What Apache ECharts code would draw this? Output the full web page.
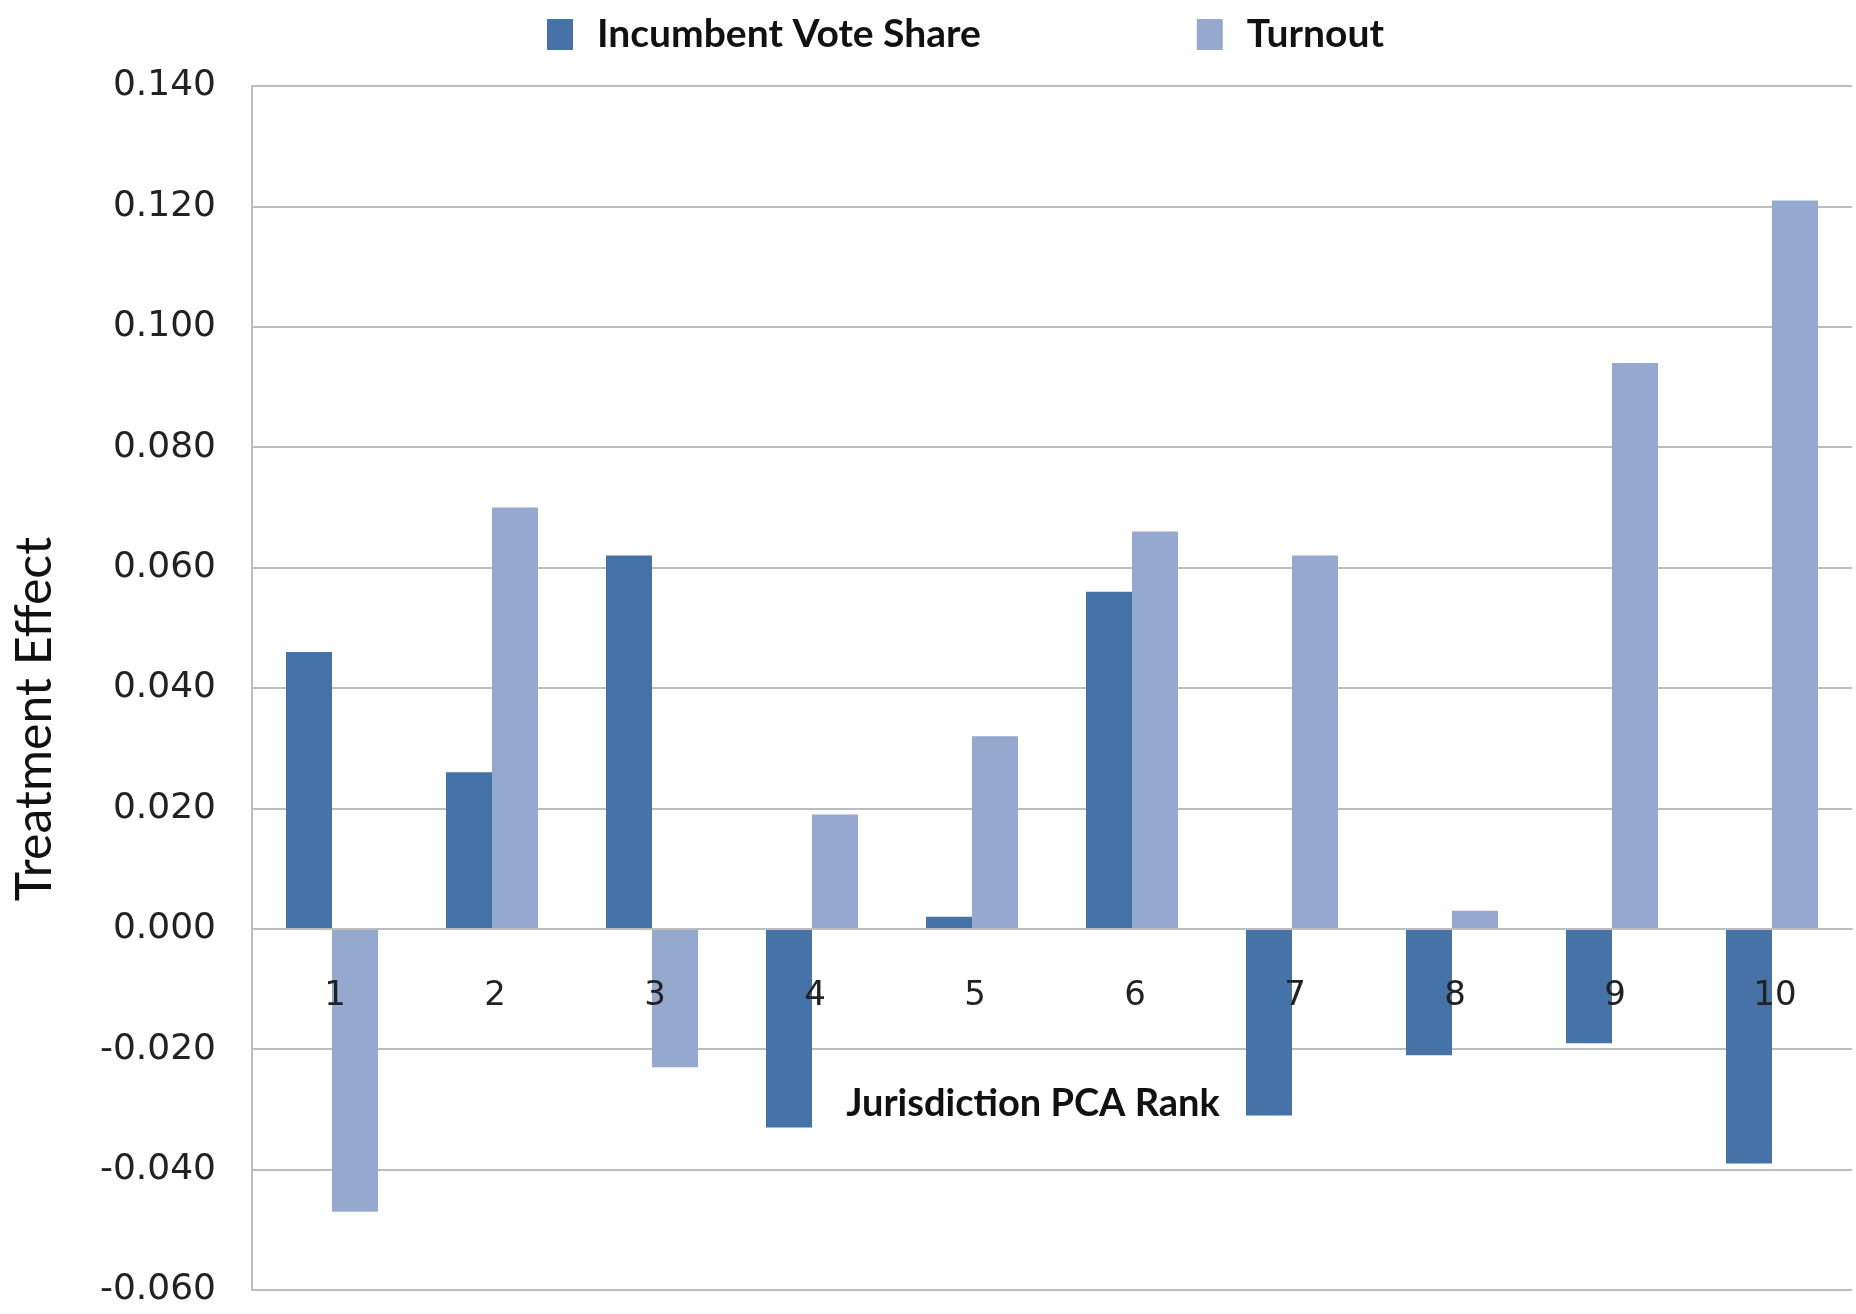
<!DOCTYPE html>
<html><head><meta charset="utf-8">
<script src="https://cdn.jsdelivr.net/npm/echarts@6/dist/echarts.min.js"></script>
<style>html,body{margin:0;padding:0;background:#fff}#c{width:1856px;height:1314px}</style>
</head><body><div id="c"></div>
<script>
const categories = ['1','2','3','4','5','6','7','8','9','10'];
const incumbentVoteShare = [0.046, 0.026, 0.062, -0.033, 0.002, 0.056, -0.031, -0.021, -0.019, -0.039];
const turnout = [-0.047, 0.070, -0.023, 0.019, 0.032, 0.066, 0.062, 0.003, 0.094, 0.121];
const seriesNames = ['Incumbent Vote Share', 'Turnout'];
const yMin = -0.06, yMax = 0.14, yStep = 0.02;

const gridTop = 86, gridBottom = 24, H = 1314;
const plotH = H - gridTop - gridBottom;
// shift x axis from bottom edge up to the zero line
const zeroOffset = -plotH * (0 - yMin) / (yMax - yMin);

const chart = echarts.init(document.getElementById('c'), null, {renderer: 'canvas'});
const gridColor = '#BDBDBD';
chart.setOption({
  animation: false,
  backgroundColor: '#fff',
  legend: {
    data: seriesNames,
    top: 10, left: 542, icon: 'rect',
    itemWidth: 26, itemHeight: 31, itemGap: 216,
    textStyle: {fontFamily: 'Lato', fontWeight: 'bold', fontSize: 39, color: '#111', padding: [0, 0, 0, 19]}
  },
  grid: {left: 252, right: 4, top: gridTop, bottom: gridBottom, containLabel: false, outerBoundsMode: 'none'},
  xAxis: {
    type: 'category', data: categories,
    offset: zeroOffset, z: 10,
    axisLine: {onZero: false, lineStyle: {color: gridColor, width: 2}},
    axisTick: {show: false},
    axisLabel: {margin: 50, fontFamily: 'DejaVu Sans', fontSize: 34, color: '#222', padding: [0, 0, 0, 6]},
    name: 'Jurisdiction PCA Rank', nameLocation: 'middle', nameGap: 156,
    nameTextStyle: {fontFamily: 'Lato', fontWeight: 'bold', fontSize: 38, color: '#111', padding: [0, 38, 0, 0]}
  },
  yAxis: {
    type: 'value', min: yMin, max: yMax, interval: yStep,
    axisLine: {show: true, lineStyle: {color: gridColor, width: 2}},
    axisTick: {show: false},
    splitLine: {lineStyle: {color: gridColor, width: 2}},
    axisLabel: {margin: 36, fontFamily: 'DejaVu Sans', fontSize: 36, color: '#222',
      formatter: v => v.toFixed(3)},
    name: 'Treatment Effect', nameLocation: 'middle', nameGap: 192,
    nameTextStyle: {fontFamily: 'Lato', fontSize: 50, color: '#111', padding: [0, 62, 0, 0]}
  },
  series: [
    {name: seriesNames[0], type: 'bar', data: incumbentVoteShare, barWidth: 46, barGap: '0%',
     itemStyle: {color: '#4673A7'}},
    {name: seriesNames[1], type: 'bar', data: turnout, barWidth: 46,
     itemStyle: {color: '#95A9CF'}}
  ]
});
</script></body></html>
